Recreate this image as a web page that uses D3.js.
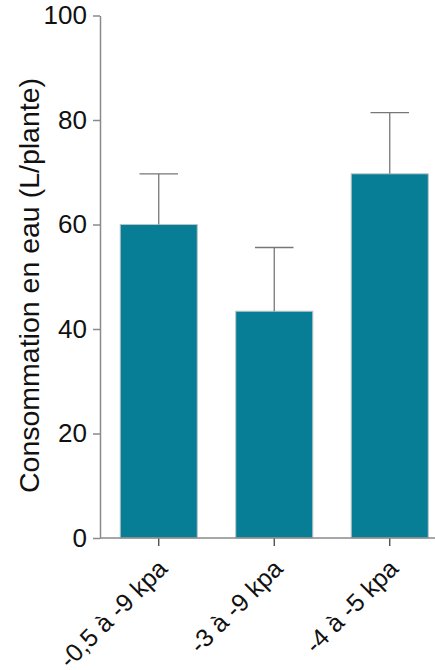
<!DOCTYPE html>
<html><head><meta charset="utf-8">
<script src="https://cdn.jsdelivr.net/npm/d3@7"></script>
<style>body{margin:0;background:#fff}svg{display:block}text{font-family:"Liberation Sans",Arial,sans-serif;fill:#111}</style>
</head><body><svg id="c" width="435" height="670"></svg>
<script>
const categories = ["-0,5 à -9 kpa", "-3 à -9 kpa", "-4 à -5 kpa"];
const means = [60.0, 43.4, 69.7];
const errors = [9.7, 12.2, 11.7];
const yTicks = [0, 20, 40, 60, 80, 100];
const yTitle = "Consommation en eau (L/plante)";

const svg = d3.select("#c");
const y = d3.scaleLinear().domain([0, 100]).range([538, 15.5]);
const x = d3.scaleBand().domain(categories).range([101, 447.5]).paddingInner(0.333).paddingOuter(0.1665);
const axisColor = "#8a8a8a";

// bars
svg.selectAll("rect.bar").data(categories).join("rect")
  .attr("x", d => x(d)).attr("width", x.bandwidth())
  .attr("y", (d,i) => y(means[i])).attr("height", (d,i) => y(0) - y(means[i]))
  .attr("fill", "#087d96").attr("stroke", "#b8c4c8").attr("stroke-width", 1);

// error bars
const capW = x.bandwidth() * 0.5;
const eb = svg.selectAll("g.eb").data(categories).join("g");
eb.append("line").attr("x1", d => x(d) + x.bandwidth()/2).attr("x2", d => x(d) + x.bandwidth()/2)
  .attr("y1", (d,i) => y(means[i])).attr("y2", (d,i) => y(means[i] + errors[i]))
  .attr("stroke", "#777").attr("stroke-width", 1.3);
eb.append("line").attr("x1", d => x(d) + x.bandwidth()/2 - capW/2).attr("x2", d => x(d) + x.bandwidth()/2 + capW/2)
  .attr("y1", (d,i) => y(means[i] + errors[i])).attr("y2", (d,i) => y(means[i] + errors[i]))
  .attr("stroke", "#777").attr("stroke-width", 1.3);

// y axis
const ya = svg.append("g").attr("transform", "translate(100,0)")
  .call(d3.axisLeft(y).tickValues(yTicks).tickSize(7).tickPadding(6).tickSizeOuter(0));
ya.select(".domain").attr("stroke", axisColor).attr("stroke-width", 1.5);
ya.selectAll(".tick line").attr("stroke", axisColor).attr("stroke-width", 1.5);
ya.selectAll(".tick text").style("font-size", "26px").attr("fill", "#111");

// x axis
const xa = svg.append("g").attr("transform", "translate(0,538)")
  .call(d3.axisBottom(x).tickSize(8).tickSizeOuter(0));
xa.select(".domain").remove();
xa.selectAll(".tick line").attr("stroke", "#444").attr("stroke-width", 1.3);
xa.selectAll(".tick text").style("font-size", "25px").attr("fill", "#111")
  .attr("text-anchor", "end").attr("dy", "0.35em")
  .attr("transform", "translate(4,26) rotate(-45)").attr("y", 0).attr("x", 0);
svg.append("line").attr("x1", 100).attr("x2", 435).attr("y1", 538).attr("y2", 538)
  .attr("stroke", axisColor).attr("stroke-width", 1.5);

// y title
svg.append("text").attr("transform", `translate(39,${(78+493)/2}) rotate(-90)`)
  .attr("text-anchor", "middle").style("font-size", "28.5px").text(yTitle);
</script></body></html>
